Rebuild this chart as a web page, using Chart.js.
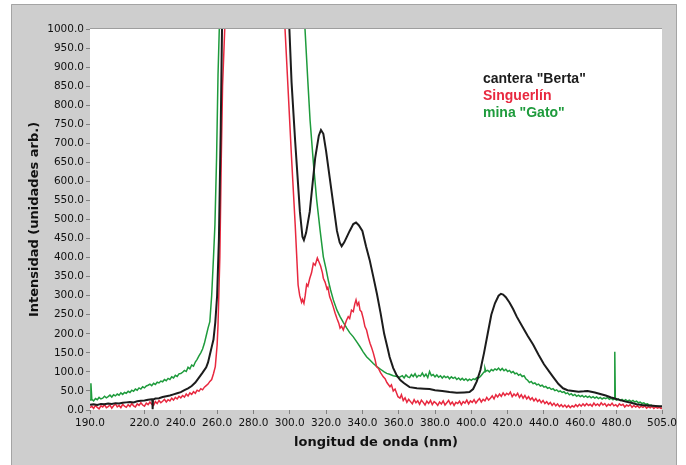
<!DOCTYPE html>
<html>
<head>
<meta charset="utf-8">
<script src="https://cdn.jsdelivr.net/npm/chart.js@4/dist/chart.umd.min.js"></script>
<style>
  html, body { margin: 0; padding: 0; background: #ffffff; }
  canvas { display: block; }
</style>
</head>
<body>
<canvas id="spectra" width="686" height="465"></canvas>
<script>
// Emission spectra of three samples: wavelength (nm) vs. intensity (arb. units)
const seriesNames = ['cantera "Berta"', 'Singuerlín', 'mina "Gato"'];
const seriesColors = ['#1c1c1c', '#e8283f', '#1e9b3c'];
const seriesWidths = [2, 1.5, 1.5];

const xTickValues = [190, 220, 240, 260, 280, 300, 320, 340, 360, 380, 400, 420, 440, 460, 480, 505];

const bertaNm = [190,192,194,196,198,200,202,204,206,208,210,212,214,216,218,220,222,224,224.3,224.5,224.7,226,228,230,232,234,236,238,240,242,244,246,248,250,252,254,255,256,257,258,259,260,261,262,262.7,263.5,266,280,296,298,299.8,301,303,305.6,307,307.8,309,311,314,316,317.2,318.5,320,322,324,326,327.5,328.6,330,331.5,333,335,336.5,338,340,342,344,346,348,350,352,354,355,357,359,361,363,366,370,374,377,380,384,388,392,396,399,401,403,405,407,409,411,413,415,416.3,417.5,419,421,423,425,428,431,434,437,440,443,445,448,450.5,453,456,459,462,464,466,468,471,474,477,479,482,485,488,491,494,497,500,503,505];
const bertaVal = [14,15,13,16,15,17,16,18,17,19,20,21,20,23,24,25,27,28,28,2,27,30,31,34,36,38,41,44,47,52,57,63,72,85,98,112,125,145,165,185,230,300,450,740,1000,1400,2500,3000,2000,1400,1000,860,704,520,455,446,465,520,661,720,735,725,680,610,540,470,440,430,440,455,470,488,492,485,470,430,394,350,305,255,200,160,139,110,90,78,70,60,57,56,55,52,50,47,45,46,47,55,75,105,150,200,250,280,300,305,303,296,282,265,245,220,195,172,145,120,100,87,68,57,52,50,48,49,50,48,46,42,38,33,30,26,22,19,15,13,12,11,10,10];

const singNm = [190,191,192,193,194,195,196,197,198,199,200,201,202,203,204,205,206,207,208,209,210,211,212,213,214,215,216,217,218,219,220,221,222,223,224,225,226,227,228,229,230,231,232,233,234,235,236,237,238,239,240,241,242,243,244,245,246,247,248,249,250,251,252,253,254,255,256,257,258,259,260,260.5,261.5,262.3,263,264.2,265,268,285,294,296,297.4,299,301,303,304.6,305.5,306.5,307,307.8,308.5,309.3,310,311,312,313,314,315.2,316,317,318,318.5,319.5,320.5,321,322,323,324,325,326,327,327.7,328.5,329.5,330.5,331.2,332.2,333,334,335,335.8,336.5,337.2,338,338.7,339.5,340.5,341.4,342.3,343.3,344.2,345,346,347,347.8,349,350,351.5,352.5,353.5,355.2,356,357,358,359.6,360.7,361.5,362.5,363.5,364.5,365.5,366.5,367.5,368.5,369.5,370.5,371.5,372.5,373.5,374.5,375.5,376.5,377.5,378.5,379.5,380.5,381.5,382.5,383.5,384.5,385.5,386.5,387.5,388.5,389.5,390.5,391.5,392.5,393.5,394.5,395.5,396.5,397.5,398.5,399.5,400.5,401.5,402.5,403.5,404.5,405.5,406.5,407.5,408.5,409.5,410.5,411.5,412.5,413.5,414.5,415.5,416.5,417.5,418.5,419.5,420.5,421.5,422.5,423.5,424.5,425.5,426.5,427.5,428.5,429.5,430.5,431.5,432.5,433.5,434.5,435.5,436.5,437.5,438.5,439.5,440.5,441.5,442.5,443.5,444.5,445.5,446.5,447.5,448.5,449.5,450.5,451.5,452.5,453.5,454.5,455.5,456.5,457.5,458.5,459.5,460.5,461.5,462.5,463.5,464.5,465.5,466.5,467.5,468.5,469.5,470.5,471.5,472.5,473.5,474.5,475.5,476.5,477.5,478.5,479.5,480.5,481.5,482.5,483.5,484.5,485.5,486.5,487.5,488.5,489.5,490.5,491.5,492.5,493.5,494.5,495.5,496.5,497.5,498.5,499.5,500.5,501.5,502.5,503.5,504.5,505];
const singVal = [6,10,4,12,7,3,11,8,14,6,9,13,5,11,16,8,12,6,15,10,7,14,9,17,11,8,16,12,19,13,10,18,14,21,15,12,22,17,25,19,23,28,21,27,24,31,26,33,29,36,32,38,34,42,37,45,41,48,44,52,49,56,53,60,64,68,75,80,95,114,170,223,400,661,850,1000,1300,2500,3000,2000,1300,1000,850,661,486,328,300,283,290,280,300,330,325,345,360,385,380,399,390,378,360,346,335,318,322,297,285,270,254,240,228,215,220,210,225,235,245,240,262,258,278,289,275,282,262,258,240,219,210,190,175,165,150,132,114,108,98,87,82,72,61,66,50,55,35,31,40,25,32,20,28,22,16,27,19,24,15,26,20,13,23,17,25,14,22,18,12,21,16,24,13,19,25,15,21,12,20,17,23,14,22,18,26,16,24,20,27,18,25,30,21,28,24,33,26,31,37,29,40,34,42,36,45,38,44,40,47,35,42,37,44,33,40,31,38,29,35,27,32,24,30,22,27,19,25,17,22,15,20,12,18,11,16,9,14,8,13,7,12,6,11,8,14,9,15,10,16,11,17,12,15,10,18,12,16,11,19,13,17,10,15,12,18,11,14,9,16,12,15,8,13,10,14,7,12,8,11,6,10,7,11,5,9,6,10,4,8,5,7,4,6];

const gatoNm = [190,190.5,191,192,193,194,195,196,197,198,199,200,201,202,203,204,205,206,207,208,209,210,211,212,213,214,215,216,217,218,219,220,221,222,223,224,225,226,227,228,229,230,231,232,233,234,235,236,237,238,239,240,241,242,243,244,245,246,247,248,249,250,251,252,253,254,255,256,257,258,258.8,259.7,260.5,261.2,262,265,285,302,306,308.4,310,311.2,313,314.8,316.7,318.5,320,321.2,322.5,324,326,327.7,329.5,331.4,333,335,337,338.7,340.5,342.3,344,346,348,350,352,353.4,355,357,359,360.5,362,363,364,365,366,367,368,369,370,371,372,373,374,375,376,377,378,379,380,381,382,383,384,385,386,387,388,389,390,391,392,393,394,395,396,397,398,399,400,401,402,403,404,405,406,407,407.5,408,409,410,411,412,413,414,415,416,417,418,419,420,421,422,423,424,425,426,427,428,429,430,431,432,433,434,435,436,437,438,439,440,441,442,443,444,445,446,447,448,449,450,451,452,453,454,455,456,457,458,459,460,461,462,463,464,465,466,467,468,469,470,471,472,473,474,475,476,477,478,478.8,479,479.3,480,481,482,483,484,485,486,487,488,489,490,491,492,493,494,495,496,497,498,499,500,501,502,503,504,505];
const gatoVal = [26,70,28,24,30,27,33,29,31,36,32,35,39,34,40,37,42,39,45,41,46,44,49,46,52,49,55,52,58,55,61,58,63,65,68,64,70,67,73,71,76,74,80,77,83,80,87,84,91,88,95,96,99,104,101,112,108,118,115,126,133,142,150,160,175,195,215,232,300,400,486,661,879,1000,1400,2500,3000,2500,1400,1000,860,760,650,553,472,402,370,341,315,289,262,245,230,215,203,192,178,166,152,140,132,122,114,107,100,96,94,90,88,86,90,84,92,87,85,93,88,95,86,91,89,97,88,94,85,101,90,93,87,92,86,90,84,89,85,88,82,87,83,86,80,84,79,83,78,82,77,81,78,82,80,85,84,88,94,100,110,102,104,100,106,103,108,105,110,104,109,103,107,101,104,98,101,95,97,91,94,88,90,82,78,72,75,69,71,66,68,63,65,60,62,57,59,54,56,51,53,48,50,46,48,43,45,40,43,38,41,36,39,35,38,34,37,33,36,32,35,31,34,30,33,29,32,30,33,28,31,27,30,153,28,26,29,25,28,24,27,23,26,22,25,21,23,19,21,17,19,15,16,12,13,10,11,9,10,8,9];

function toPoints(xs, ys) {
  return xs.map((x, i) => ({ x: x, y: ys[i] }));
}

const PLOT_LEFT = 90, PLOT_TOP = 29, PLOT_RIGHT = 662, PLOT_BOTTOM = 410;

// Grey instrument-style frame behind a white plotting area
const framePlugin = {
  id: 'frame',
  beforeDraw(chart) {
    const ctx = chart.ctx;
    const a = chart.chartArea;
    ctx.save();
    ctx.fillStyle = '#ffffff';
    ctx.fillRect(0, 0, chart.width, chart.height);
    ctx.fillStyle = '#cecece';
    ctx.fillRect(11, 4, 666, 461);
    ctx.strokeStyle = '#a4a4a4';
    ctx.lineWidth = 1;
    ctx.beginPath();
    ctx.moveTo(11.5, 465);
    ctx.lineTo(11.5, 4.5);
    ctx.lineTo(676.5, 4.5);
    ctx.lineTo(676.5, 465);
    ctx.stroke();
    ctx.fillStyle = '#ffffff';
    ctx.fillRect(a.left, a.top, a.right - a.left, a.bottom - a.top);
    ctx.strokeStyle = '#9e9e9e';
    ctx.beginPath();
    ctx.moveTo(a.left, a.top - 0.5);
    ctx.lineTo(a.right, a.top - 0.5);
    ctx.stroke();
    ctx.restore();
  }
};

// Coloured text key inside the plot
const keyPlugin = {
  id: 'textKey',
  afterDatasetsDraw(chart) {
    const ctx = chart.ctx;
    ctx.save();
    ctx.font = 'bold 14px "Liberation Sans", Arial, sans-serif';
    ctx.textAlign = 'left';
    ctx.textBaseline = 'middle';
    chart.data.datasets.forEach((ds, i) => {
      ctx.fillStyle = ds.borderColor;
      ctx.fillText(ds.label, 483, 79 + i * 17);
    });
    ctx.restore();
  }
};

const tickFont = { family: '"DejaVu Sans", Verdana, sans-serif', size: 10.5 };
const titleFont = { family: '"DejaVu Sans", Verdana, sans-serif', size: 13, weight: 'bold' };

new Chart(document.getElementById('spectra'), {
  type: 'line',
  data: {
    datasets: [
      { label: seriesNames[0], data: toPoints(bertaNm, bertaVal), borderColor: seriesColors[0], borderWidth: seriesWidths[0] },
      { label: seriesNames[1], data: toPoints(singNm, singVal), borderColor: seriesColors[1], borderWidth: seriesWidths[1] },
      { label: seriesNames[2], data: toPoints(gatoNm, gatoVal), borderColor: seriesColors[2], borderWidth: seriesWidths[2] }
    ].map(ds => Object.assign(ds, { pointRadius: 0, tension: 0, fill: false }))
  },
  options: {
    responsive: false,
    animation: false,
    devicePixelRatio: 1,
    layout: { padding: { left: 0, top: PLOT_TOP, right: 686 - PLOT_RIGHT, bottom: 0 } },
    plugins: { legend: { display: false }, tooltip: { enabled: false } },
    scales: {
      x: {
        type: 'linear',
        min: 190,
        max: 505,
        afterFit(scale) { scale.height = 465 - PLOT_BOTTOM; },
        afterBuildTicks(scale) { scale.ticks = xTickValues.map(v => ({ value: v })); },
        ticks: {
          autoSkip: false,
          maxRotation: 0,
          padding: 3,
          color: '#111111',
          font: tickFont,
          callback: v => Number(v).toFixed(1)
        },
        grid: { drawOnChartArea: false, drawTicks: true, tickLength: 4, color: '#808080' },
        border: { display: false },
        title: {
          display: true,
          text: 'longitud de onda (nm)',
          color: '#111111',
          font: titleFont,
          padding: { top: 0, bottom: 15 }
        }
      },
      y: {
        min: 0,
        max: 1000,
        afterFit(scale) { scale.width = PLOT_LEFT; },
        ticks: {
          stepSize: 50,
          autoSkip: false,
          padding: 2,
          color: '#111111',
          font: tickFont,
          callback: v => Number(v).toFixed(1)
        },
        grid: { drawOnChartArea: false, drawTicks: true, tickLength: 4, color: '#808080' },
        border: { display: false },
        title: {
          display: true,
          text: 'Intensidad (unidades arb.)',
          color: '#111111',
          font: titleFont,
          padding: { top: 27, bottom: 0 }
        }
      }
    }
  },
  plugins: [framePlugin, keyPlugin]
});
</script>
</body>
</html>
